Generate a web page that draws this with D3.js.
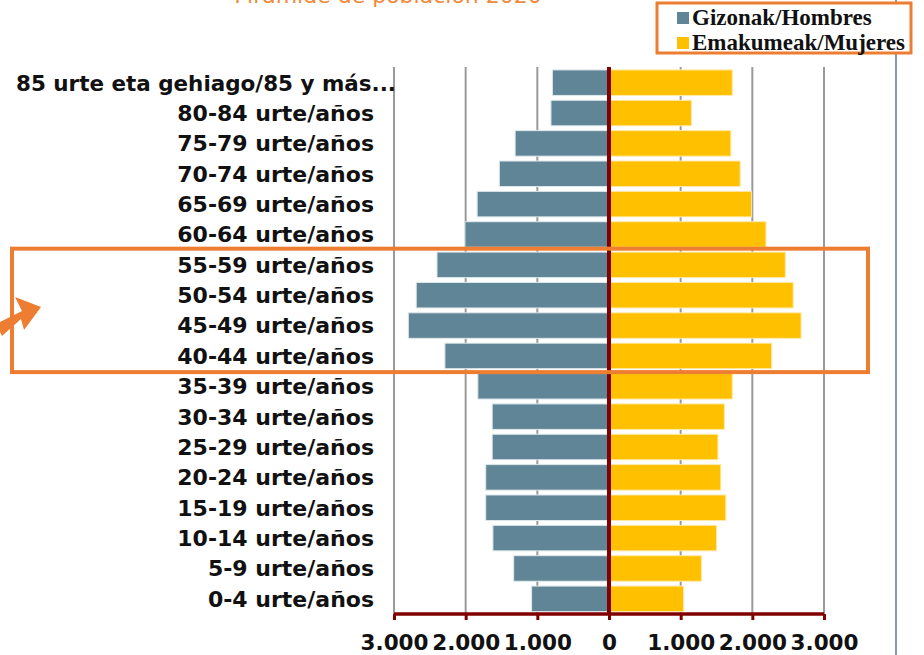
<!DOCTYPE html>
<html><head><meta charset="utf-8">
<script src="https://cdn.jsdelivr.net/npm/d3@7"></script>
<style>body{margin:0;background:#fff}svg{display:block}</style>
</head><body>
<svg id="c" width="924" height="655"></svg>
<script>
const title = "Pirámide de población 2020";
const categories = ["85 urte eta gehiago/85 y más...","80-84 urte/años","75-79 urte/años","70-74 urte/años","65-69 urte/años","60-64 urte/años","55-59 urte/años","50-54 urte/años","45-49 urte/años","40-44 urte/años","35-39 urte/años","30-34 urte/años","25-29 urte/años","20-24 urte/años","15-19 urte/años","10-14 urte/años","5-9 urte/años","0-4 urte/años"];
const hombres = [790,810,1310,1530,1840,2010,2400,2690,2800,2290,1830,1630,1630,1720,1720,1620,1330,1080];
const mujeres = [1720,1150,1700,1830,1990,2190,2460,2570,2680,2270,1720,1610,1520,1560,1630,1500,1290,1040];
const seriesNames = ["Gizonak/Hombres","Emakumeak/Mujeres"];
const tickValues = [-3000,-2000,-1000,0,1000,2000,3000];
const highlighted = ["55-59 urte/años","40-44 urte/años"];

const svg = d3.select("#c");
const cMale = "#5f8596", cFemale = "#ffc000", orange = "#ed7d31", dark = "#800000";
const x = d3.scaleLinear().domain([-3000,3000]).range([394,824]);
const y = d3.scaleBand().domain(categories).range([67.5,614]).paddingInner(0.16).paddingOuter(0.08);
const fmt = v => d3.format(",")(Math.abs(v)).replace(/,/g,".");

// right border line
svg.append("line").attr("x1",896).attr("x2",896).attr("y1",0).attr("y2",655)
  .attr("stroke","#7e9cab").attr("stroke-width",2);

// title (cut at the top edge as in the reference)
svg.append("text").attr("x",388).attr("y",3).attr("text-anchor","middle")
  .attr("font-family","DejaVu Sans, Verdana, sans-serif").attr("font-size",22)
  .attr("fill","#f08a3c").text(title);

// grid
svg.append("g").selectAll("line").data(tickValues.filter(d=>d!==0)).join("line")
  .attr("x1",d=>x(d)).attr("x2",d=>x(d)).attr("y1",67).attr("y2",614)
  .attr("stroke","#9a9a9a").attr("stroke-width",2);

// bars
const g = svg.append("g");
g.selectAll("rect.m").data(categories).join("rect").attr("class","m")
  .attr("x",(d,i)=>x(-hombres[i])).attr("width",(d,i)=>x(0)-x(-hombres[i]))
  .attr("y",d=>y(d)).attr("height",y.bandwidth())
  .attr("fill",cMale).attr("stroke","#dfe7ea").attr("stroke-width",1);
g.selectAll("rect.f").data(categories).join("rect").attr("class","f")
  .attr("x",x(0)).attr("width",(d,i)=>x(mujeres[i])-x(0))
  .attr("y",d=>y(d)).attr("height",y.bandwidth())
  .attr("fill",cFemale).attr("stroke","#ffe9a8").attr("stroke-width",1);

// zero line
svg.append("line").attr("x1",x(0)).attr("x2",x(0)).attr("y1",67).attr("y2",614)
  .attr("stroke",dark).attr("stroke-width",4);

// bottom axis
const ax = svg.append("g").attr("transform","translate(0,614)")
  .call(d3.axisBottom(x).tickValues(tickValues).tickFormat(fmt).tickSize(6).tickPadding(15));
ax.select(".domain").attr("stroke",dark).attr("stroke-width",3.5).attr("d","M"+x(-3000)+",0H"+x(3000));
ax.selectAll(".tick line").attr("stroke",dark).attr("stroke-width",3);
ax.selectAll(".tick text").attr("font-family","DejaVu Sans, Verdana, sans-serif")
  .attr("font-weight","bold").attr("font-size",21.5).attr("fill","#111");

// category labels
svg.append("g").selectAll("text").data(categories).join("text")
  .attr("x",(d,i)=>i===0?396:374).attr("y",d=>y(d)+y.bandwidth()/2).attr("dy","0.36em")
  .attr("text-anchor","end").attr("font-family","DejaVu Sans, Verdana, sans-serif")
  .attr("font-weight","bold").attr("font-size",22).attr("fill","#111")
  .each(function(d,i){ if(i===0) d3.select(this).attr("textLength",380).attr("lengthAdjust","spacingAndGlyphs"); })
  .text(d=>d);

// highlight box
const yTop = y(highlighted[0]) - y.step()*y.paddingInner()/2 - 1;
const yBot = y(highlighted[1]) + y.bandwidth() + y.step()*y.paddingInner()/2 + 1;
svg.append("rect").attr("x",12).attr("y",yTop).attr("width",856).attr("height",yBot-yTop)
  .attr("fill","none").attr("stroke",orange).attr("stroke-width",4);

// arrow
svg.append("path").attr("d","M-4,324 L22,311 L15,297 L41,307 L24,330 L21,319 L2,336 Z")
  .attr("fill",orange);

// legend
const lg = svg.append("g");
lg.append("rect").attr("x",657).attr("y",3).attr("width",254).attr("height",50)
  .attr("fill","#fff").attr("stroke",orange).attr("stroke-width",3);
[cMale,cFemale].forEach((c,i)=>{
  lg.append("rect").attr("x",677).attr("y",12+i*25).attr("width",12).attr("height",12).attr("fill",c);
  lg.append("text").attr("x",692).attr("y",25+i*25)
    .attr("font-family","Liberation Serif, Times New Roman, serif").attr("font-weight","bold")
    .attr("font-size",23).attr("fill","#111").text(seriesNames[i]);
});
</script>
</body></html>
